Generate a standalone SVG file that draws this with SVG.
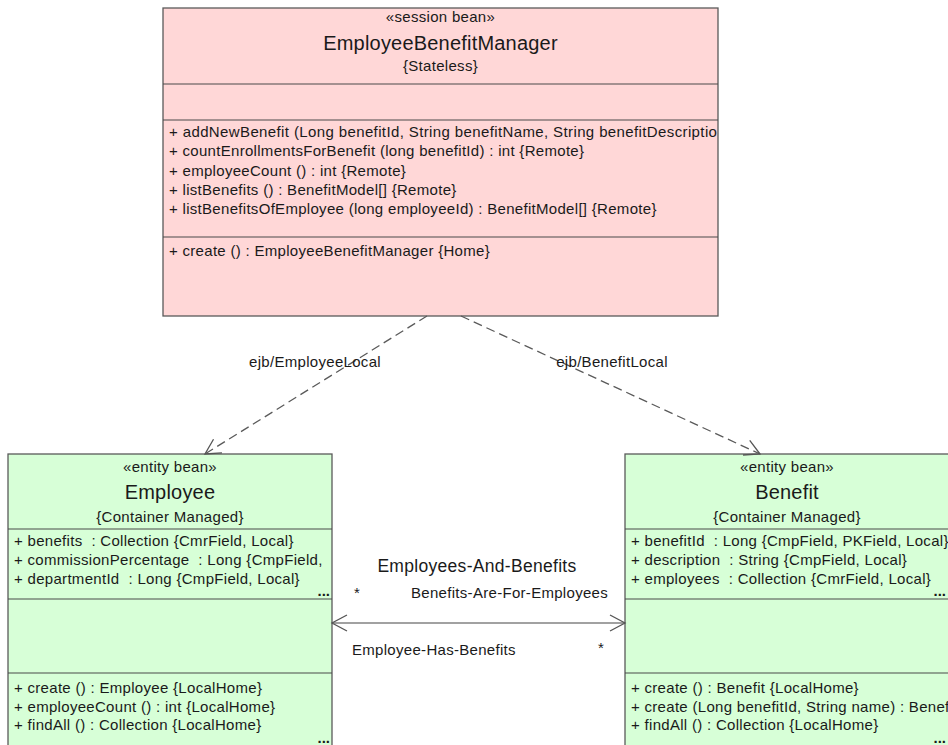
<svg xmlns="http://www.w3.org/2000/svg" width="948" height="745" viewBox="0 0 948 745">
<style>
.box{stroke:#5a5a5a;stroke-width:1.3}
.sess{fill:#ffd7d7}
.ent{fill:#d7ffd7}
.sep{stroke:#4a4a4a;stroke-width:1.2}
text{font-family:"Liberation Sans",Arial,sans-serif;fill:#1a1a1a;font-size:15px;letter-spacing:0.3px;white-space:pre}
.c{text-anchor:middle}
.title{font-size:20px;letter-spacing:0.2px}
.assoc{font-size:17.5px}
.dots{font-weight:bold;text-anchor:end;letter-spacing:0}
.dash{stroke:#5a5a5a;stroke-width:1.3;fill:none;stroke-dasharray:9,5}
.solid{stroke:#444;stroke-width:1.2;fill:none}
.ah{stroke:#555;stroke-width:1.3;fill:none;stroke-dasharray:none}
</style>
<defs>
<marker id="open" markerUnits="userSpaceOnUse" markerWidth="20" markerHeight="20" viewBox="0 0 20 20" refX="16" refY="8" orient="auto-start-reverse" overflow="visible">
<path class="ah" d="M1,0 L16,8 L1,16"/>
</marker>
<clipPath id="clipTop"><rect x="163" y="8" width="555" height="308"/></clipPath>
<clipPath id="clipEmp"><rect x="8" y="454" width="324" height="300"/></clipPath>
<clipPath id="clipBen"><rect x="625" y="454" width="324" height="300"/></clipPath>
</defs>
<rect width="948" height="745" fill="#ffffff"/>

<g id="EmployeeBenefitManager">
<rect class="box sess" x="163" y="8" width="555" height="308"/>
<line class="sep" x1="163" y1="84" x2="718" y2="84"/>
<line class="sep" x1="163" y1="120" x2="718" y2="120"/>
<line class="sep" x1="163" y1="237" x2="718" y2="237"/>
<text class="c" x="440.5" y="22">«session bean»</text>
<text class="c title" x="440.5" y="50">EmployeeBenefitManager</text>
<text class="c" x="440.5" y="71">{Stateless}</text>
<g clip-path="url(#clipTop)">
<text x="169" y="137" style="letter-spacing:0.38px">+ addNewBenefit (Long benefitId, String benefitName, String benefitDescriptio</text>
<text x="169" y="156.3">+ countEnrollmentsForBenefit (long benefitId) : int {Remote}</text>
<text x="169" y="175.6">+ employeeCount () : int {Remote}</text>
<text x="169" y="194.9">+ listBenefits () : BenefitModel[] {Remote}</text>
<text x="169" y="214.2">+ listBenefitsOfEmployee (long employeeId) : BenefitModel[] {Remote}</text>
<text x="169" y="256">+ create () : EmployeeBenefitManager {Home}</text>
</g>
</g>

<g id="Employee">
<rect class="box ent" x="8" y="454" width="324" height="300"/>
<line class="sep" x1="8" y1="529" x2="332" y2="529"/>
<line class="sep" x1="8" y1="599" x2="332" y2="599"/>
<line class="sep" x1="8" y1="673" x2="332" y2="673"/>
<text class="c" x="170" y="472">«entity bean»</text>
<text class="c title" x="170" y="499">Employee</text>
<text class="c" x="170" y="522">{Container Managed}</text>
<g clip-path="url(#clipEmp)">
<text x="14" y="546">+ benefits  : Collection {CmrField, Local}</text>
<text x="14" y="565">+ commissionPercentage  : Long {CmpField,</text>
<text x="14" y="584">+ departmentId  : Long {CmpField, Local}</text>
<text class="dots" x="330" y="596">...</text>
<text x="14" y="693">+ create () : Employee {LocalHome}</text>
<text x="14" y="711.5">+ employeeCount () : int {LocalHome}</text>
<text x="14" y="730">+ findAll () : Collection {LocalHome}</text>
<text class="dots" x="330" y="743">...</text>
</g>
</g>

<g id="Benefit">
<rect class="box ent" x="625" y="454" width="324" height="300"/>
<line class="sep" x1="625" y1="529" x2="949" y2="529"/>
<line class="sep" x1="625" y1="599" x2="949" y2="599"/>
<line class="sep" x1="625" y1="673" x2="949" y2="673"/>
<text class="c" x="787" y="472">«entity bean»</text>
<text class="c title" x="787" y="499">Benefit</text>
<text class="c" x="787" y="522">{Container Managed}</text>
<g clip-path="url(#clipBen)">
<text x="631" y="546">+ benefitId  : Long {CmpField, PKField, Local}</text>
<text x="631" y="565">+ description  : String {CmpField, Local}</text>
<text x="631" y="584">+ employees  : Collection {CmrField, Local}</text>
<text class="dots" x="946" y="596">...</text>
<text x="631" y="693">+ create () : Benefit {LocalHome}</text>
<text x="631" y="711.5">+ create (Long benefitId, String name) : Benef</text>
<text x="631" y="730">+ findAll () : Collection {LocalHome}</text>
<text class="dots" x="946" y="743">...</text>
</g>
</g>

<g id="connectors">
<path class="dash" d="M427,316 L205,454" marker-end="url(#open)"/>
<path class="dash" d="M461,316 L760,454" marker-end="url(#open)"/>
<text class="c" x="315" y="367">ejb/EmployeeLocal</text>
<text class="c" x="612" y="367">ejb/BenefitLocal</text>
<path class="solid" d="M332,623 L625,623" marker-start="url(#open)" marker-end="url(#open)"/>
<text class="c assoc" x="477" y="572">Employees-And-Benefits</text>
<text x="354" y="598">*</text>
<text x="411" y="598">Benefits-Are-For-Employees</text>
<text x="352" y="655">Employee-Has-Benefits</text>
<text x="598" y="653">*</text>
</g>
</svg>
